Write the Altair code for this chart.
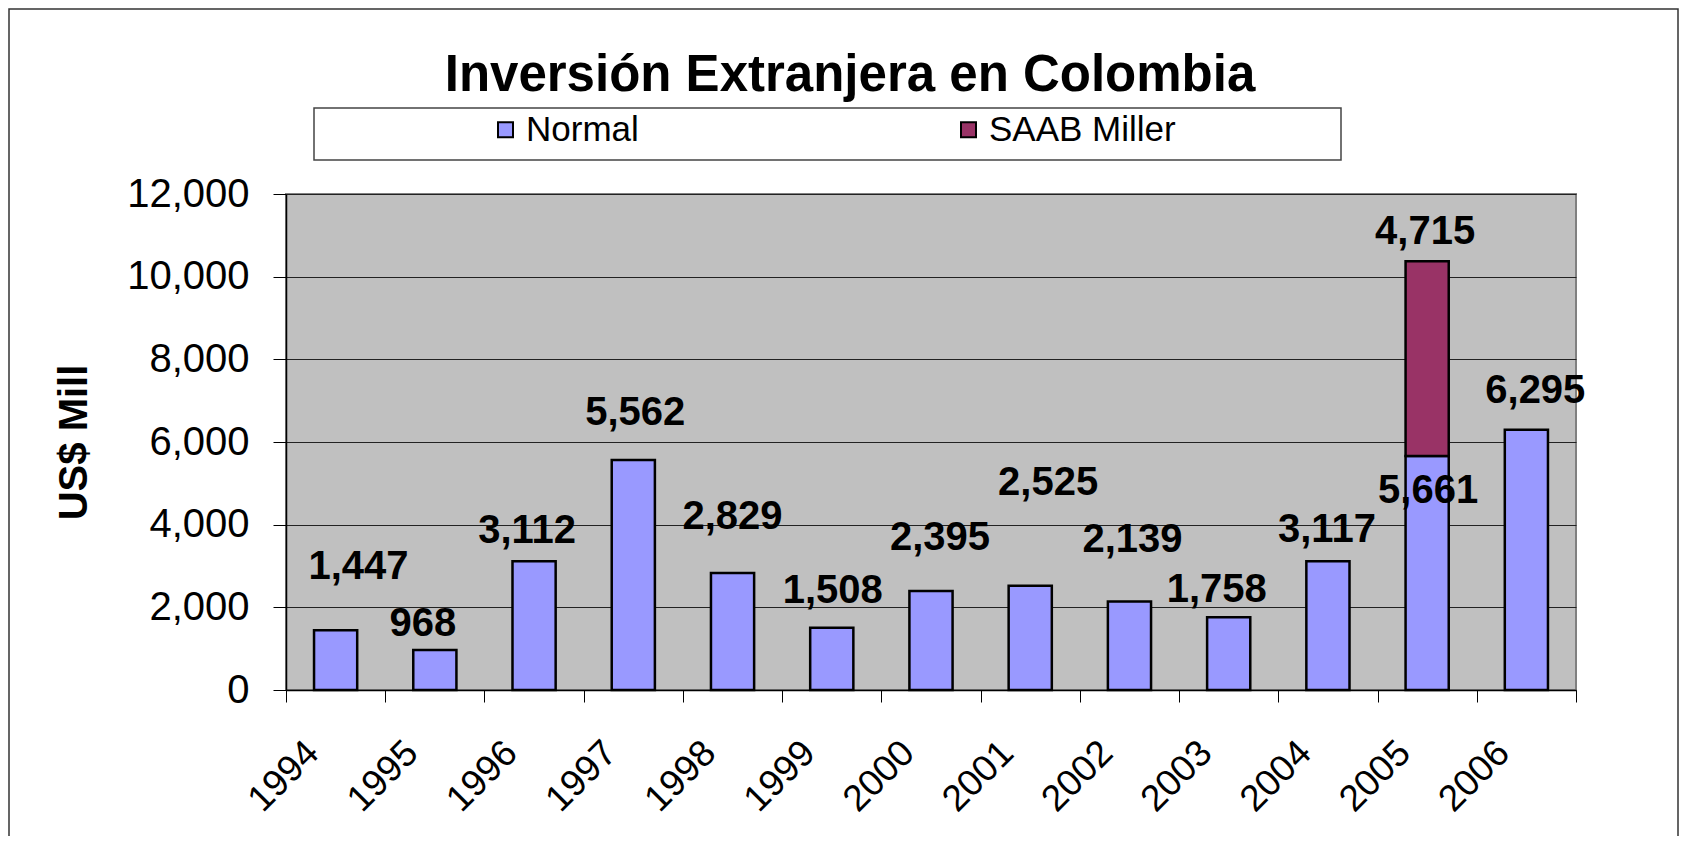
import altair as alt
import pandas as pd

FONT = "Liberation Sans"

# ---- data ----
years = ["1994", "1995", "1996", "1997", "1998", "1999", "2000",
         "2001", "2002", "2003", "2004", "2005", "2006"]
normal = [1447, 968, 3112, 5562, 2829, 1508, 2395, 2525, 2139, 1758, 3117, 5661, 6295]
saab_years = ["2005"]
saab = [4715]
series = ["Normal", "SAAB Miller"]
colors = ["#9999FF", "#993366"]

# where each value label sits (value-axis units / fraction of a category step)
label_level_normal = [2685, 1306, 3556, 6423, 3895, 2105, 3387, 4718, 3339, 2129, 3581, 4524, 6944]
label_shift_normal = [0.23, -0.12, -0.07, 0.02, 0.0, 0.01, 0.09, 0.18, 0.03, -0.12, -0.01, 0.01, 0.09]
label_level_saab = [10790]
label_shift_saab = [-0.02]

# ---- tables ----
rows = [{"year": y, "series": "Normal", "value": v, "ord": 0} for y, v in zip(years, normal)]
rows += [{"year": y, "series": "SAAB Miller", "value": v, "ord": 1} for y, v in zip(saab_years, saab)]
bars_df = pd.DataFrame(rows)

lab = []
for y, v, lv, sh in zip(years, normal, label_level_normal, label_shift_normal):
    lab.append({"slot": years.index(y) + 0.5 + sh, "level": lv, "label": f"{v:,}"})
for y, v, lv, sh in zip(saab_years, saab, label_level_saab, label_shift_saab):
    lab.append({"slot": years.index(y) + 0.5 + sh, "level": lv, "label": f"{v:,}"})
lab_df = pd.DataFrame(lab)

W, H = 1290, 496

y_axis = alt.Axis(values=list(range(0, 12001, 2000)), format=",.0f", title="US$ Mill",
                  titleFontSize=40, titleFont=FONT, titleFontWeight="bold", titleColor="black",
                  titlePadding=32, labelFontSize=40, labelFont=FONT, labelColor="black",
                  labelPadding=24, tickSize=13, tickColor="black", tickWidth=1,
                  domainColor="black", domainWidth=1.5, grid=True, gridColor="#222222",
                  gridWidth=1)
y_scale = alt.Scale(domain=[0, 12000], nice=False)

bars = alt.Chart(bars_df).mark_bar(width={"band": 0.435}, stroke="black", strokeWidth=2.5).encode(
    x=alt.X("year:N", sort=years, scale=alt.Scale(paddingInner=0, paddingOuter=0),
            axis=alt.Axis(title=None, tickBand="extent", labelAngle=-45, labelAlign="right",
                          labelBaseline="middle", labelOffset=-23, labelPadding=45,
                          labelFontSize=37, labelFont=FONT, labelColor="black",
                          tickSize=12, tickColor="black", tickWidth=1,
                          domainColor="black", domainWidth=1.5, grid=False)),
    y=alt.Y("value:Q", stack=True, scale=y_scale, axis=y_axis),
    color=alt.Color("series:N", scale=alt.Scale(domain=series, range=colors),
                    legend=alt.Legend(title=None, orient="none", legendX=202, legendY=-82,
                                      direction="horizontal", symbolType="square",
                                      symbolSize=225, symbolStrokeColor="black",
                                      symbolStrokeWidth=2, symbolOpacity=1,
                                      labelFontSize=35, labelFont=FONT, labelColor="black",
                                      labelOffset=3, labelLimit=400, columnPadding=312,
                                      padding=0)),
    order=alt.Order("ord:Q"),
)

labels = alt.Chart(lab_df).mark_text(font=FONT, fontSize=40, fontWeight="bold", color="black",
                                     align="center", baseline="alphabetic").encode(
    x=alt.X("slot:Q", scale=alt.Scale(domain=[0, 13], nice=False, zero=False), axis=None),
    y=alt.Y("level:Q", scale=y_scale, axis=y_axis),
    text="label:N",
)

one = alt.Data(values=[{"k": 1}])
legend_box = alt.Chart(one).mark_rect(fill="white", stroke="#444444", strokeWidth=1.5).encode(
    x=alt.value(28), x2=alt.value(1055), y=alt.value(-86), y2=alt.value(-34))
outer = alt.Chart(one).mark_rect(fill="white", fillOpacity=0, stroke="#333333", strokeWidth=1.5).encode(
    x=alt.value(-277), x2=alt.value(1392), y=alt.value(-185), y2=alt.value(700))

chart = alt.layer(outer, legend_box, bars, labels).resolve_scale(x="independent").properties(
    width=W, height=H,
    title=alt.TitleParams(text="Inversión Extranjera en Colombia", font=FONT, fontSize=51,
                          fontWeight="bold", color="black", anchor="middle", frame="group",
                          offset=-134, baseline="alphabetic", dx=-81),
    padding={"left": 278, "top": 186, "right": 104, "bottom": 146},
    autosize=alt.AutoSizeParams(type="none"),
    background="white",
).configure_view(fill="#C0C0C0", stroke="#808080", strokeWidth=2)

chart.save("out.html", embed_options={"renderer": "svg", "actions": False})
